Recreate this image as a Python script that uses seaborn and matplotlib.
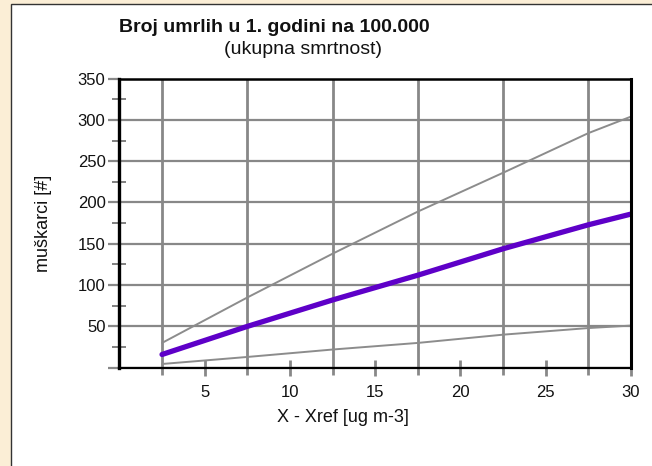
import numpy as np
import pandas as pd
import seaborn as sns
import matplotlib.pyplot as plt
from matplotlib.patches import Rectangle

# Values (at the vertical grid positions)
x_vals = [2.5, 7.5, 12.5, 17.5, 22.5, 27.5, 30]
upper = [30, 85, 138, 189, 236, 284, 304]
central = [16, 50, 82, 112, 144, 173, 186]
lower = [4.5, 13, 22, 30, 40, 48, 51]

x_major = [5, 10, 15, 20, 25, 30]
x_minor = [2.5, 7.5, 12.5, 17.5, 22.5, 27.5]
y_major = [0, 50, 100, 150, 200, 250, 300, 350]
y_minor = [25, 75, 125, 175, 225, 275, 325]
y_labels = ['', '50', '100', '150', '200', '250', '300', '350']

sns.set_style('white')
plt.rcParams['font.family'] = ['Liberation Sans', 'DejaVu Sans']

fig = plt.figure(figsize=(6.52, 4.66), dpi=100)
fig.patch.set_facecolor('#fbeed6')
# white panel with dark border
panel = Rectangle((11 / 652, -0.1), 1.2, 1.1 - 4 / 466, transform=fig.transFigure,
                  facecolor='white', edgecolor='#333333', lw=1.0, zorder=-10)
fig.patches.append(panel)

ax = fig.add_axes([119.4 / 652, 1 - 367.7 / 466, (631 - 119.4) / 652, (367.7 - 78.6) / 466])
ax.set_facecolor('white')
ax.set_zorder(1)

df = pd.DataFrame({'x': x_vals, 'upper': upper, 'central': central, 'lower': lower})
sns.lineplot(data=df, x='x', y='upper', ax=ax, color='#8c8c8c', lw=1.4, zorder=3)
sns.lineplot(data=df, x='x', y='lower', ax=ax, color='#8c8c8c', lw=1.4, zorder=3)
sns.lineplot(data=df, x='x', y='central', ax=ax, color='#5e00c8', lw=3.8, zorder=4,
             solid_capstyle='round')

ax.set_xlim(0, 30)
ax.set_ylim(0, 350)
ax.set_xticks(x_major)
ax.set_xticks(x_minor, minor=True)
ax.set_xticklabels([str(v) for v in x_major])
ax.set_yticks(y_major)
ax.set_yticks(y_minor, minor=True)
ax.set_yticklabels(y_labels)

ax.grid(False)
ax.grid(which='minor', axis='x', color='#888888', lw=2.0, zorder=1)
ax.grid(which='major', axis='y', color='#888888', lw=1.6, zorder=1)

ax.tick_params(axis='x', which='major', direction='inout', length=11, width=2,
               color='#888888', labelsize=12, pad=7, labelcolor='#111111')
ax.tick_params(axis='x', which='minor', direction='out', length=5, width=2,
               color='#888888')
ax.tick_params(axis='y', which='major', direction='out', length=8, width=1.6,
               color='#888888', labelsize=12, pad=2, labelcolor='#111111')
ax.tick_params(axis='y', which='minor', direction='inout', length=10, width=1.4,
               color='#808080')
ax.tick_params(left=True, bottom=True)
ax.tick_params(which='minor', left=True, bottom=True)

for side, lw in [('left', 2.4), ('top', 1.8), ('right', 2.2), ('bottom', 1.6)]:
    ax.spines[side].set_visible(True)
    ax.spines[side].set_color('black')
    ax.spines[side].set_linewidth(lw)
    ax.spines[side].set_zorder(5)

ax.set_xlabel('')
ax.set_ylabel('')

fig.text(274 / 652, 1 - 27 / 466, 'Broj umrlih u 1. godini na 100.000',
         ha='center', va='center', fontsize=14, fontweight='bold', color='#111111')
fig.text(303 / 652, 1 - 49 / 466, '(ukupna smrtnost)',
         ha='center', va='center', fontsize=14, color='#111111')
fig.text(343 / 652, 1 - 417 / 466, 'X - Xref [ug m-3]',
         ha='center', va='center', fontsize=13, color='#111111')
fig.text(44 / 652, 1 - 223 / 466, 'muškarci [#]', rotation=90,
         ha='center', va='center', fontsize=13, color='#111111')

fig.savefig('out.png', dpi=100, facecolor=fig.get_facecolor())
